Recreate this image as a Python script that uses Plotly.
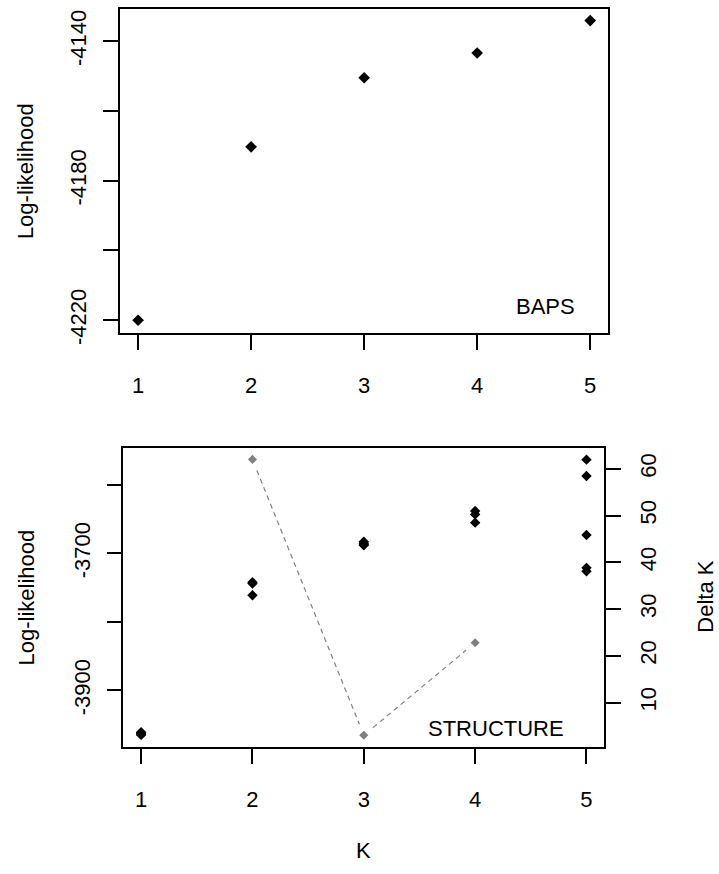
import plotly.graph_objects as go

# ---------------- data ----------------
K_VALUES = [1, 2, 3, 4, 5]
BAPS_LL = [-4220.0, -4170.3, -4150.5, -4143.4, -4134.1]

STRUCT_K = [1, 1, 1, 1, 1,
            2, 2, 2,
            3, 3, 3, 3,
            4, 4, 4,
            5, 5, 5, 5, 5]
STRUCT_LL = [-3961, -3962, -3963, -3964, -3965,
             -3742, -3744, -3761,
             -3683, -3685, -3687, -3688,
             -3638, -3643, -3655,
             -3563, -3587, -3673, -3721, -3726]

DELTA_K_X = [2, 3, 4]
DELTA_K = [62.0, 3.0, 22.8]

TOP_YTICKS = [-4220, -4200, -4180, -4160, -4140]
TOP_YTEXT = ["-4220", "", "-4180", "", "-4140"]
BOT_YTICKS = [-3900, -3800, -3700, -3600]
BOT_YTEXT = ["-3900", "", "-3700", ""]
DK_TICKS = [10, 20, 30, 40, 50, 60]
DK_TEXT = ["10", "20", "30", "40", "50", "60"]

# ---------------- layout geometry ----------------
W, H = 719, 874
FONT = "Liberation Sans, Arial, Helvetica, sans-serif"
FS = 22
XR = [0.84, 5.16]
TOP_YR = [-4223.67, -4130.87]
BOT_YR = [-3982.5, -3546.1]
DK_R = [0.51, 64.43]

TOP_X = [120 / W, 608.3 / W]
TOP_Y = [1 - 337.7 / H, 1 - 9.4 / H]
BOT_X = [123.3 / W, 604.3 / W]
BOT_Y = [1 - 757.3 / H, 1 - 454.3 / H]

# R type="b": line segments with gaps around the points (computed in pixel space)
GAP = 12.0
def to_px(x, y):
    px = (BOT_X[0] + (x - XR[0]) / (XR[1] - XR[0]) * (BOT_X[1] - BOT_X[0])) * W
    py = (BOT_Y[0] + (y - DK_R[0]) / (DK_R[1] - DK_R[0]) * (BOT_Y[1] - BOT_Y[0])) * H
    return px, py
def from_px(px, py):
    x = XR[0] + (px / W - BOT_X[0]) / (BOT_X[1] - BOT_X[0]) * (XR[1] - XR[0])
    y = DK_R[0] + (py / H - BOT_Y[0]) / (BOT_Y[1] - BOT_Y[0]) * (DK_R[1] - DK_R[0])
    return x, y

seg_x, seg_y = [], []
for i in range(len(DELTA_K_X) - 1):
    ax, ay = to_px(DELTA_K_X[i], DELTA_K[i])
    bx, by = to_px(DELTA_K_X[i + 1], DELTA_K[i + 1])
    d = ((bx - ax) ** 2 + (by - ay) ** 2) ** 0.5
    ux, uy = (bx - ax) / d, (by - ay) / d
    s = from_px(ax + ux * GAP, ay + uy * GAP)
    e = from_px(bx - ux * GAP, by - uy * GAP)
    seg_x += [s[0], e[0], None]
    seg_y += [s[1], e[1], None]

fig = go.Figure()

fig.add_trace(go.Scatter(x=K_VALUES, y=BAPS_LL, mode="markers",
                         marker=dict(symbol="diamond", size=9, color="black"),
                         xaxis="x", yaxis="y", showlegend=False))

fig.add_trace(go.Scatter(x=STRUCT_K, y=STRUCT_LL, mode="markers",
                         marker=dict(symbol="diamond", size=8, color="black"),
                         xaxis="x2", yaxis="y2", showlegend=False))

fig.add_trace(go.Scatter(x=seg_x, y=seg_y, mode="lines",
                         line=dict(color="#808080", width=1.2, dash="5px,4px"),
                         xaxis="x2", yaxis="y3", showlegend=False))
fig.add_trace(go.Scatter(x=DELTA_K_X, y=DELTA_K, mode="markers",
                         marker=dict(symbol="diamond", size=7, color="#808080"),
                         xaxis="x2", yaxis="y3", showlegend=False))

axis_common = dict(showline=True, linecolor="black", linewidth=1.5, mirror=True,
                   ticks="outside", ticklen=15, tickwidth=1.5, tickcolor="black",
                   showgrid=False, zeroline=False,
                   tickfont=dict(family=FONT, size=FS, color="black"))

fig.update_layout(
    width=W, height=H,
    margin=dict(l=0, r=0, t=0, b=0),
    paper_bgcolor="white", plot_bgcolor="white",
    font=dict(family=FONT, size=FS, color="black"),
    xaxis=dict(domain=TOP_X, anchor="y", range=XR, tickvals=K_VALUES,
               ticktext=[str(k) for k in K_VALUES], ticklabelstandoff=17, **axis_common),
    yaxis=dict(domain=TOP_Y, anchor="x", range=TOP_YR, tickvals=TOP_YTICKS,
               ticktext=TOP_YTEXT, tickangle=-90, ticklabelstandoff=8, **axis_common),
    xaxis2=dict(domain=BOT_X, anchor="y2", range=XR, tickvals=K_VALUES,
                ticktext=[str(k) for k in K_VALUES], ticklabelstandoff=17, **axis_common),
    yaxis2=dict(domain=BOT_Y, anchor="x2", range=BOT_YR, tickvals=BOT_YTICKS,
                ticktext=BOT_YTEXT, tickangle=-90, ticklabelstandoff=8, **axis_common),
    yaxis3=dict(overlaying="y2", anchor="x2", side="right", range=DK_R,
                tickvals=DK_TICKS, ticktext=DK_TEXT, tickangle=-90, ticklabelstandoff=9,
                showline=True, linecolor="black", linewidth=1.5,
                ticks="outside", ticklen=15, tickwidth=1.5, tickcolor="black",
                showgrid=False, zeroline=False,
                tickfont=dict(family=FONT, size=FS, color="black")),
)

def ann(text, x, y, angle=0, xanchor="center", yanchor="middle"):
    fig.add_annotation(text=text, x=x / W, y=1 - y / H, xref="paper", yref="paper",
                       showarrow=False, textangle=angle, xanchor=xanchor, yanchor=yanchor,
                       font=dict(family=FONT, size=FS, color="black"))

ann("Log-likelihood", 25, 173.5, angle=-90)
ann("Log-likelihood", 26, 605.8, angle=-90)
ann("Delta K", 706, 605, angle=-90)
ann("K", 364, 862)
ann("BAPS", 577, 311, xanchor="right")
ann("STRUCTURE", 566, 739, xanchor="right")

fig.write_html("out.html")
